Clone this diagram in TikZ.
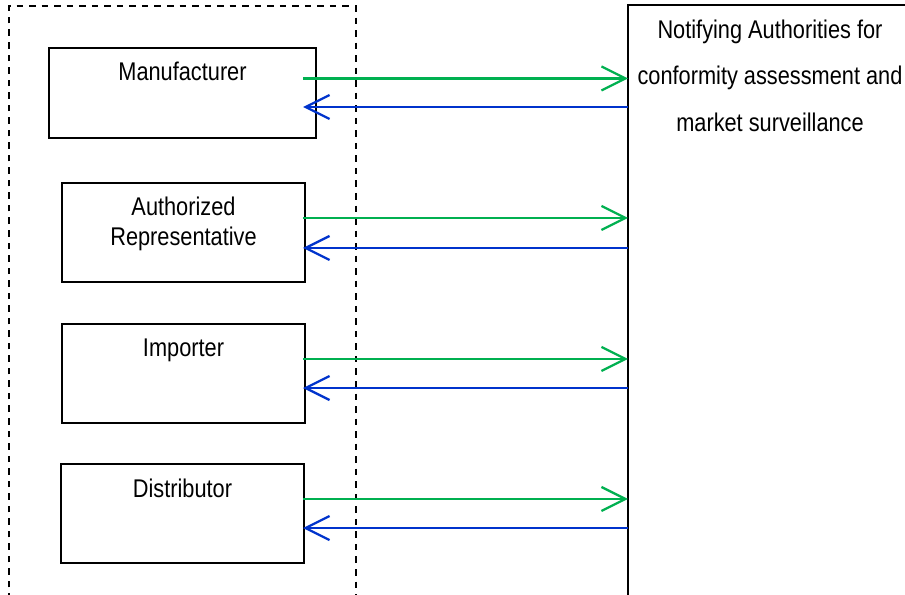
\documentclass[tikz,border=0pt]{standalone}
\usepackage{fontspec}
\setmainfont{Liberation Sans}[FakeStretch=0.85]
\usetikzlibrary{arrows.meta}
\definecolor{sendgreen}{RGB}{0,176,80}
\definecolor{replyblue}{RGB}{0,51,204}

\begin{document}
\begin{tikzpicture}[x=0.75pt, y=-0.75pt, box/.style={rectangle, draw, line width=1.3pt, inner sep=0pt, minimum width=182.25pt, minimum height=74.25pt}, title/.style={anchor=north, align=center, inner sep=0pt, font=\fontsize{19.2pt}{22.5pt}\selectfont}, frame/.style={line width=1.4pt, dash pattern=on 4.9pt off 4.5pt}, send/.style={draw=sendgreen, line width=1.7pt, -{Straight Barb[length=18pt, width=18pt]}}, reply/.style={draw=replyblue, line width=1.7pt, -{Straight Barb[length=18pt, width=18pt]}}]
	\useasboundingbox (0,0) rectangle (905,595);
	% nodes
	\node[box, minimum width=200.25pt, minimum height=67.5pt] (manu) at (182.5,93) {}; %
	\node[box] (authrep) at (183.5,232.5) {}; %
	\node[box] (importer) at (183.5,373.5) {}; %
	\node[box] (distrib) at (182.5,513.5) {}; %
	\node[title] (manutxt) at ([yshift=-11.25pt]manu.north) {Manufacturer}; %
	\node[title] (authreptxt) at ([yshift=-11.25pt]authrep.north) {Authorized\\Representative}; %
	\node[title] (importertxt) at ([yshift=-11.25pt]importer.north) {Importer}; %
	\node[title] (distribtxt) at ([yshift=-11.5pt]distrib.north) {Distributor}; %
	\node[title, font=\fontsize{19.2pt}{34.9pt}\selectfont] (authtxt) at (770,19.5) {Notifying Authorities for\\conformity assessment and\\market surveillance}; %

	% plate
	\coordinate (gate) at (303,0); %
	\coordinate (wall) at (628,0); %
	\draw[frame] (9,600) |- (356,6) -- (356,600); %
	\draw[line width=1.4pt] (628,600) |- (910,5); %

	% edges
	\draw[send] ([yshift=10.9pt]manu.center -| gate) -- ([yshift=10.9pt]manu.center -| wall);
	\draw[reply] ([yshift=-10.5pt]manu.center -| wall) -- ([yshift=-10.5pt]manu.center -| gate);
	\draw[send] ([yshift=10.9pt]authrep.center -| gate) -- ([yshift=10.9pt]authrep.center -| wall);
	\draw[reply] ([yshift=-11.6pt]authrep.center -| wall) -- ([yshift=-11.6pt]authrep.center -| gate);
	\draw[send] ([yshift=10.9pt]importer.center -| gate) -- ([yshift=10.9pt]importer.center -| wall);
	\draw[reply] ([yshift=-10.9pt]importer.center -| wall) -- ([yshift=-10.9pt]importer.center -| gate);
	\draw[send] ([yshift=10.9pt]distrib.center -| gate) -- ([yshift=10.9pt]distrib.center -| wall);
	\draw[reply] ([yshift=-10.9pt]distrib.center -| wall) -- ([yshift=-10.9pt]distrib.center -| gate);
\end{tikzpicture}
\end{document}
